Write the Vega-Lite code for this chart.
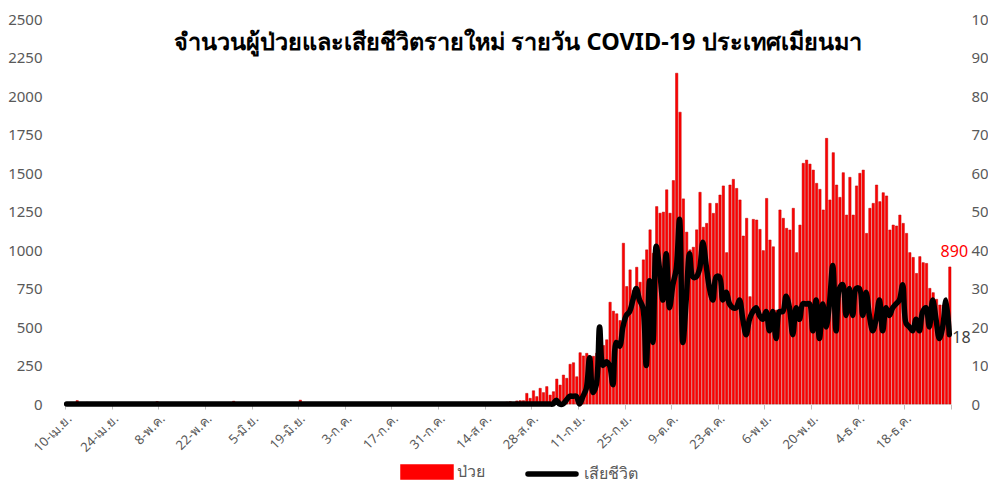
{
  "$schema": "https://vega.github.io/schema/vega-lite/v6.json",
  "autosize": {"type": "none"},
  "width": 886,
  "height": 385,
  "padding": {"left": 65, "top": 19, "right": 37, "bottom": 95},
  "background": "white",
  "config": {"view": {"stroke": null}, "font": "Noto Sans"},
  "title": {"text": "จำนวนผู้ป่วยและเสียชีวิตรายใหม่ รายวัน COVID-19 ประเทศเมียนมา", "fontSize": 23.5, "fontWeight": "bold", "color": "#000000", "anchor": "middle", "frame": "group", "offset": 0, "baseline": "alphabetic", "dy": 61, "dx": 10},
  "data": {"values": [
{"d":"2020-04-10","c":4,"k":0},{"d":"2020-04-11","c":1,"k":0},{"d":"2020-04-12","c":2,"k":0},{"d":"2020-04-13","c":22,"k":0},{"d":"2020-04-14","c":3,"k":0},{"d":"2020-04-15","c":1,"k":0},{"d":"2020-04-16","c":11,"k":0},{"d":"2020-04-17","c":7,"k":0},{"d":"2020-04-18","c":8,"k":0},{"d":"2020-04-19","c":4,"k":0},{"d":"2020-04-20","c":8,"k":0},{"d":"2020-04-21","c":10,"k":0},{"d":"2020-04-22","c":3,"k":0},{"d":"2020-04-23","c":3,"k":0},{"d":"2020-04-24","c":2,"k":0},{"d":"2020-04-25","c":5,"k":0},{"d":"2020-04-26","c":0,"k":0},{"d":"2020-04-27","c":2,"k":0},{"d":"2020-04-28","c":4,"k":0},{"d":"2020-04-29","c":4,"k":0},{"d":"2020-04-30","c":1,"k":0},
{"d":"2020-05-01","c":1,"k":0},{"d":"2020-05-02","c":0,"k":0},{"d":"2020-05-03","c":0,"k":0},{"d":"2020-05-04","c":0,"k":0},{"d":"2020-05-05","c":1,"k":0},{"d":"2020-05-06","c":0,"k":0},{"d":"2020-05-07","c":16,"k":0},{"d":"2020-05-08","c":0,"k":0},{"d":"2020-05-09","c":1,"k":0},{"d":"2020-05-10","c":0,"k":0},{"d":"2020-05-11","c":2,"k":0},{"d":"2020-05-12","c":0,"k":0},{"d":"2020-05-13","c":1,"k":0},{"d":"2020-05-14","c":0,"k":0},{"d":"2020-05-15","c":2,"k":0},{"d":"2020-05-16","c":1,"k":0},{"d":"2020-05-17","c":0,"k":0},{"d":"2020-05-18","c":0,"k":0},{"d":"2020-05-19","c":3,"k":0},{"d":"2020-05-20","c":0,"k":0},{"d":"2020-05-21","c":0,"k":0},{"d":"2020-05-22","c":1,"k":0},{"d":"2020-05-23","c":0,"k":0},{"d":"2020-05-24","c":2,"k":0},{"d":"2020-05-25","c":1,"k":0},{"d":"2020-05-26","c":1,"k":0},{"d":"2020-05-27","c":0,"k":0},{"d":"2020-05-28","c":0,"k":0},{"d":"2020-05-29","c":3,"k":0},{"d":"2020-05-30","c":18,"k":0},{"d":"2020-05-31","c":1,"k":0},
{"d":"2020-06-01","c":0,"k":0},{"d":"2020-06-02","c":0,"k":0},{"d":"2020-06-03","c":1,"k":0},{"d":"2020-06-04","c":0,"k":0},{"d":"2020-06-05","c":2,"k":0},{"d":"2020-06-06","c":1,"k":0},{"d":"2020-06-07","c":0,"k":0},{"d":"2020-06-08","c":0,"k":0},{"d":"2020-06-09","c":0,"k":0},{"d":"2020-06-10","c":1,"k":0},{"d":"2020-06-11","c":0,"k":0},{"d":"2020-06-12","c":2,"k":0},{"d":"2020-06-13","c":0,"k":0},{"d":"2020-06-14","c":0,"k":0},{"d":"2020-06-15","c":1,"k":0},{"d":"2020-06-16","c":0,"k":0},{"d":"2020-06-17","c":0,"k":0},{"d":"2020-06-18","c":1,"k":0},{"d":"2020-06-19","c":25,"k":0},{"d":"2020-06-20","c":2,"k":0},{"d":"2020-06-21","c":1,"k":0},{"d":"2020-06-22","c":0,"k":0},{"d":"2020-06-23","c":0,"k":0},{"d":"2020-06-24","c":3,"k":0},{"d":"2020-06-25","c":0,"k":0},{"d":"2020-06-26","c":2,"k":0},{"d":"2020-06-27","c":1,"k":0},{"d":"2020-06-28","c":0,"k":0},{"d":"2020-06-29","c":0,"k":0},{"d":"2020-06-30","c":1,"k":0},
{"d":"2020-07-01","c":1,"k":0},{"d":"2020-07-02","c":0,"k":0},{"d":"2020-07-03","c":0,"k":0},{"d":"2020-07-04","c":3,"k":0},{"d":"2020-07-05","c":0,"k":0},{"d":"2020-07-06","c":1,"k":0},{"d":"2020-07-07","c":2,"k":0},{"d":"2020-07-08","c":0,"k":0},{"d":"2020-07-09","c":0,"k":0},{"d":"2020-07-10","c":1,"k":0},{"d":"2020-07-11","c":0,"k":0},{"d":"2020-07-12","c":0,"k":0},{"d":"2020-07-13","c":2,"k":0},{"d":"2020-07-14","c":0,"k":0},{"d":"2020-07-15","c":1,"k":0},{"d":"2020-07-16","c":0,"k":0},{"d":"2020-07-17","c":0,"k":0},{"d":"2020-07-18","c":0,"k":0},{"d":"2020-07-19","c":2,"k":0},{"d":"2020-07-20","c":0,"k":0},{"d":"2020-07-21","c":1,"k":0},{"d":"2020-07-22","c":0,"k":0},{"d":"2020-07-23","c":0,"k":0},{"d":"2020-07-24","c":1,"k":0},{"d":"2020-07-25","c":0,"k":0},{"d":"2020-07-26","c":2,"k":0},{"d":"2020-07-27","c":0,"k":0},{"d":"2020-07-28","c":0,"k":0},{"d":"2020-07-29","c":1,"k":0},{"d":"2020-07-30","c":0,"k":0},{"d":"2020-07-31","c":0,"k":0},
{"d":"2020-08-01","c":0,"k":0},{"d":"2020-08-02","c":1,"k":0},{"d":"2020-08-03","c":0,"k":0},{"d":"2020-08-04","c":0,"k":0},{"d":"2020-08-05","c":2,"k":0},{"d":"2020-08-06","c":1,"k":0},{"d":"2020-08-07","c":0,"k":0},{"d":"2020-08-08","c":0,"k":0},{"d":"2020-08-09","c":0,"k":0},{"d":"2020-08-10","c":1,"k":0},{"d":"2020-08-11","c":0,"k":0},{"d":"2020-08-12","c":0,"k":0},{"d":"2020-08-13","c":0,"k":0},{"d":"2020-08-14","c":0,"k":0},{"d":"2020-08-15","c":1,"k":0},{"d":"2020-08-16","c":3,"k":0},{"d":"2020-08-17","c":0,"k":0},{"d":"2020-08-18","c":2,"k":0},{"d":"2020-08-19","c":8,"k":0},{"d":"2020-08-20","c":12,"k":0},{"d":"2020-08-21","c":15,"k":0},{"d":"2020-08-22","c":6,"k":0},{"d":"2020-08-23","c":20,"k":0},{"d":"2020-08-24","c":22,"k":0},{"d":"2020-08-25","c":22,"k":0},{"d":"2020-08-26","c":69,"k":0},{"d":"2020-08-27","c":37,"k":0},{"d":"2020-08-28","c":86,"k":0},{"d":"2020-08-29","c":48,"k":0},{"d":"2020-08-30","c":102,"k":0},{"d":"2020-08-31","c":74,"k":0},
{"d":"2020-09-01","c":113,"k":0},{"d":"2020-09-02","c":58,"k":0},{"d":"2020-09-03","c":80,"k":0},{"d":"2020-09-04","c":162,"k":1},{"d":"2020-09-05","c":123,"k":0},{"d":"2020-09-06","c":188,"k":0},{"d":"2020-09-07","c":167,"k":1},{"d":"2020-09-08","c":258,"k":2},{"d":"2020-09-09","c":268,"k":2},{"d":"2020-09-10","c":177,"k":2},{"d":"2020-09-11","c":333,"k":0},{"d":"2020-09-12","c":312,"k":2},{"d":"2020-09-13","c":329,"k":4},{"d":"2020-09-14","c":300,"k":12},{"d":"2020-09-15","c":310,"k":3},{"d":"2020-09-16","c":330,"k":5},{"d":"2020-09-17","c":360,"k":20},{"d":"2020-09-18","c":380,"k":10},{"d":"2020-09-19","c":417,"k":11},{"d":"2020-09-20","c":661,"k":10},{"d":"2020-09-21","c":603,"k":5},{"d":"2020-09-22","c":586,"k":16},{"d":"2020-09-23","c":542,"k":15},{"d":"2020-09-24","c":1044,"k":20},{"d":"2020-09-25","c":763,"k":23},{"d":"2020-09-26","c":871,"k":24},{"d":"2020-09-27","c":737,"k":27},{"d":"2020-09-28","c":888,"k":30},{"d":"2020-09-29","c":791,"k":27},{"d":"2020-09-30","c":936,"k":25},
{"d":"2020-10-01","c":1001,"k":10},{"d":"2020-10-02","c":1131,"k":32},{"d":"2020-10-03","c":979,"k":16},{"d":"2020-10-04","c":1282,"k":41},{"d":"2020-10-05","c":1239,"k":35},{"d":"2020-10-06","c":1246,"k":27},{"d":"2020-10-07","c":1391,"k":39},{"d":"2020-10-08","c":1239,"k":25},{"d":"2020-10-09","c":1451,"k":31},{"d":"2020-10-10","c":2148,"k":35},{"d":"2020-10-11","c":1895,"k":48},{"d":"2020-10-12","c":1332,"k":16},{"d":"2020-10-13","c":1116,"k":27},{"d":"2020-10-14","c":1001,"k":39},{"d":"2020-10-15","c":1018,"k":33},{"d":"2020-10-16","c":1131,"k":33},{"d":"2020-10-17","c":1375,"k":35},{"d":"2020-10-18","c":1148,"k":42},{"d":"2020-10-19","c":1173,"k":36},{"d":"2020-10-20","c":1303,"k":30},{"d":"2020-10-21","c":1238,"k":27},{"d":"2020-10-22","c":1303,"k":33},{"d":"2020-10-23","c":1357,"k":33},{"d":"2020-10-24","c":1416,"k":27},{"d":"2020-10-25","c":983,"k":29},{"d":"2020-10-26","c":1422,"k":26},{"d":"2020-10-27","c":1459,"k":25},{"d":"2020-10-28","c":1400,"k":25},{"d":"2020-10-29","c":1325,"k":27},{"d":"2020-10-30","c":1091,"k":22},{"d":"2020-10-31","c":1206,"k":18},
{"d":"2020-11-01","c":697,"k":22},{"d":"2020-11-02","c":1199,"k":24},{"d":"2020-11-03","c":1195,"k":25},{"d":"2020-11-04","c":1134,"k":23},{"d":"2020-11-05","c":996,"k":22},{"d":"2020-11-06","c":1335,"k":24},{"d":"2020-11-07","c":1065,"k":19},{"d":"2020-11-08","c":1021,"k":24},{"d":"2020-11-09","c":610,"k":17},{"d":"2020-11-10","c":1260,"k":24},{"d":"2020-11-11","c":1206,"k":24},{"d":"2020-11-12","c":1141,"k":28},{"d":"2020-11-13","c":1130,"k":25},{"d":"2020-11-14","c":1271,"k":18},{"d":"2020-11-15","c":983,"k":25},{"d":"2020-11-16","c":1162,"k":22},{"d":"2020-11-17","c":1563,"k":26},{"d":"2020-11-18","c":1584,"k":26},{"d":"2020-11-19","c":1558,"k":26},{"d":"2020-11-20","c":1519,"k":19},{"d":"2020-11-21","c":1433,"k":27},{"d":"2020-11-22","c":1394,"k":17},{"d":"2020-11-23","c":1260,"k":26},{"d":"2020-11-24","c":1725,"k":20},{"d":"2020-11-25","c":1325,"k":26},{"d":"2020-11-26","c":1632,"k":36},{"d":"2020-11-27","c":1422,"k":19},{"d":"2020-11-28","c":1342,"k":30},{"d":"2020-11-29","c":1502,"k":31},{"d":"2020-11-30","c":1227,"k":23},
{"d":"2020-12-01","c":1472,"k":30},{"d":"2020-12-02","c":1227,"k":23},{"d":"2020-12-03","c":1416,"k":30},{"d":"2020-12-04","c":1498,"k":30},{"d":"2020-12-05","c":1519,"k":23},{"d":"2020-12-06","c":1108,"k":29},{"d":"2020-12-07","c":1271,"k":23},{"d":"2020-12-08","c":1303,"k":19},{"d":"2020-12-09","c":1422,"k":22},{"d":"2020-12-10","c":1314,"k":27},{"d":"2020-12-11","c":1372,"k":19},{"d":"2020-12-12","c":1351,"k":25},{"d":"2020-12-13","c":1130,"k":23},{"d":"2020-12-14","c":1162,"k":25},{"d":"2020-12-15","c":1156,"k":26},{"d":"2020-12-16","c":1227,"k":27},{"d":"2020-12-17","c":1173,"k":31},{"d":"2020-12-18","c":1108,"k":21},{"d":"2020-12-19","c":983,"k":20},{"d":"2020-12-20","c":952,"k":19},{"d":"2020-12-21","c":848,"k":22},{"d":"2020-12-22","c":957,"k":19},{"d":"2020-12-23","c":918,"k":24},{"d":"2020-12-24","c":913,"k":25},{"d":"2020-12-25","c":751,"k":20},{"d":"2020-12-26","c":723,"k":27},{"d":"2020-12-27","c":680,"k":22},{"d":"2020-12-28","c":643,"k":17},{"d":"2020-12-29","c":643,"k":20},{"d":"2020-12-30","c":640,"k":27},{"d":"2020-12-31","c":890,"k":18}
  ]},
  "encoding": {
    "x": {
      "field": "d", "timeUnit": "utcyearmonthdate", "type": "temporal", "title": null,
      "scale": {"type": "utc", "domain": [{"year": 2020, "month": 4, "date": 10, "utc": true}, {"year": 2021, "month": 1, "date": 1, "utc": true}]},
      "axis": {
        "values": [
          {"year": 2020, "month": 4, "date": 10, "utc": true}, {"year": 2020, "month": 4, "date": 24, "utc": true},
          {"year": 2020, "month": 5, "date": 8, "utc": true}, {"year": 2020, "month": 5, "date": 22, "utc": true},
          {"year": 2020, "month": 6, "date": 5, "utc": true}, {"year": 2020, "month": 6, "date": 19, "utc": true},
          {"year": 2020, "month": 7, "date": 3, "utc": true}, {"year": 2020, "month": 7, "date": 17, "utc": true},
          {"year": 2020, "month": 7, "date": 31, "utc": true}, {"year": 2020, "month": 8, "date": 14, "utc": true},
          {"year": 2020, "month": 8, "date": 28, "utc": true}, {"year": 2020, "month": 9, "date": 11, "utc": true},
          {"year": 2020, "month": 9, "date": 25, "utc": true}, {"year": 2020, "month": 10, "date": 9, "utc": true},
          {"year": 2020, "month": 10, "date": 23, "utc": true}, {"year": 2020, "month": 11, "date": 6, "utc": true},
          {"year": 2020, "month": 11, "date": 20, "utc": true}, {"year": 2020, "month": 12, "date": 4, "utc": true},
          {"year": 2020, "month": 12, "date": 18, "utc": true}, {"year": 2021, "month": 1, "date": 1, "utc": true}
        ],
        "labelExpr": "utcyear(datum.value) > 2020 ? '' : utcdate(datum.value) + '-' + ['ม.ค.','ก.พ.','มี.ค.','เม.ย.','พ.ค.','มิ.ย.','ก.ค.','ส.ค.','ก.ย.','ต.ค.','พ.ย.','ธ.ค.'][utcmonth(datum.value)]",
        "labelAngle": -45, "labelFontSize": 13, "labelColor": "#595959", "labelPadding": 3,
        "domainColor": "#d9d9d9", "tickColor": "#bfbfbf", "tickSize": 5, "grid": false, "labelOverlap": false
      }
    }
  },
  "layer": [
    {
      "layer": [
        {
          "mark": {"type": "bar", "stroke": "#C00000", "strokeWidth": 0.5},
          "encoding": {
            "y": {"field": "c", "type": "quantitative", "title": null,
              "scale": {"domain": [0, 2500]},
              "axis": {"orient": "left", "values": [0, 250, 500, 750, 1000, 1250, 1500, 1750, 2000, 2250, 2500], "format": "d", "grid": false, "domain": false, "ticks": false, "tickSize": 0, "labelPadding": 23, "labelFontSize": 15, "labelColor": "#595959"}},
            "fill": {"datum": "ป่วย", "type": "nominal",
              "scale": {"domain": ["ป่วย"], "range": ["#FF0000"]},
              "legend": {
                "orient": "none", "legendX": 335, "legendY": 426, "title": null, "padding": 0,
                "symbolType": "M-1,-0.27H1V0.27H-1Z", "symbolSize": 2704, "symbolStrokeColor": "#FF0000", "symbolStrokeWidth": 1.5,
                "labelFontSize": 16, "labelColor": "#595959", "labelOffset": 3,
                "encode": {"symbols": {"update": {"fill": {"value": "#C00000"}, "stroke": {"value": "#FF0000"}, "opacity": {"value": 1}}}}
              }
            }
          }
        },
        {
          "transform": [{"filter": "datum.c == 890"}],
          "mark": {"type": "text", "color": "#FF0000", "fontSize": 16, "dx": 5, "dy": -15, "baseline": "middle"},
          "encoding": {
            "x": {"field": "d", "timeUnit": "utcyearmonthdate", "type": "temporal", "bandPosition": 0.5},
            "y": {"field": "c", "type": "quantitative", "title": null,
              "scale": {"domain": [0, 2500]},
              "axis": {"orient": "left", "values": [0, 250, 500, 750, 1000, 1250, 1500, 1750, 2000, 2250, 2500], "format": "d", "grid": false, "domain": false, "ticks": false, "tickSize": 0, "labelPadding": 23, "labelFontSize": 15, "labelColor": "#595959"}},
            "text": {"field": "c", "type": "quantitative"}
          }
        }
      ]
    },
    {
      "layer": [
        {
          "mark": {"type": "line", "strokeWidth": 5.5, "strokeCap": "round", "strokeJoin": "round", "interpolate": "catmull-rom"},
          "encoding": {
            "x": {"field": "d", "timeUnit": "utcyearmonthdate", "type": "temporal", "bandPosition": 0.5},
            "y": {"field": "k", "type": "quantitative", "title": null,
              "scale": {"domain": [0, 100]},
              "axis": {"orient": "right", "values": [0, 10, 20, 30, 40, 50, 60, 70, 80, 90, 100], "format": "d", "grid": false, "domain": false, "ticks": false, "tickSize": 0, "labelPadding": 20, "labelFontSize": 15, "labelColor": "#595959"}},
            "stroke": {"datum": "เสียชีวิต", "type": "nominal",
              "scale": {"domain": ["เสียชีวิต"], "range": ["#000000"]},
              "legend": {
                "orient": "none", "legendX": 460, "legendY": 428, "title": null, "padding": 0,
                "symbolType": "stroke", "symbolSize": 2304, "symbolStrokeWidth": 5.5,
                "labelFontSize": 16, "labelColor": "#595959", "labelOffset": 5,
                "encode": {"symbols": {"update": {"strokeCap": {"value": "round"}, "opacity": {"value": 1}}}}
              }
            }
          }
        },
        {
          "transform": [{"filter": "datum.c == 890"}],
          "mark": {"type": "text", "color": "#404040", "fontSize": 16, "dx": 3, "dy": 3, "align": "left", "baseline": "middle"},
          "encoding": {
            "x": {"field": "d", "timeUnit": "utcyearmonthdate", "type": "temporal", "bandPosition": 0.5},
            "y": {"field": "k", "type": "quantitative", "title": null,
              "scale": {"domain": [0, 100]},
              "axis": {"orient": "right", "values": [0, 10, 20, 30, 40, 50, 60, 70, 80, 90, 100], "format": "d", "grid": false, "domain": false, "ticks": false, "tickSize": 0, "labelPadding": 20, "labelFontSize": 15, "labelColor": "#595959"}},
            "text": {"field": "k", "type": "quantitative"}
          }
        }
      ]
    }
  ],
  "resolve": {"scale": {"y": "independent", "fill": "independent", "stroke": "independent"}}
}
